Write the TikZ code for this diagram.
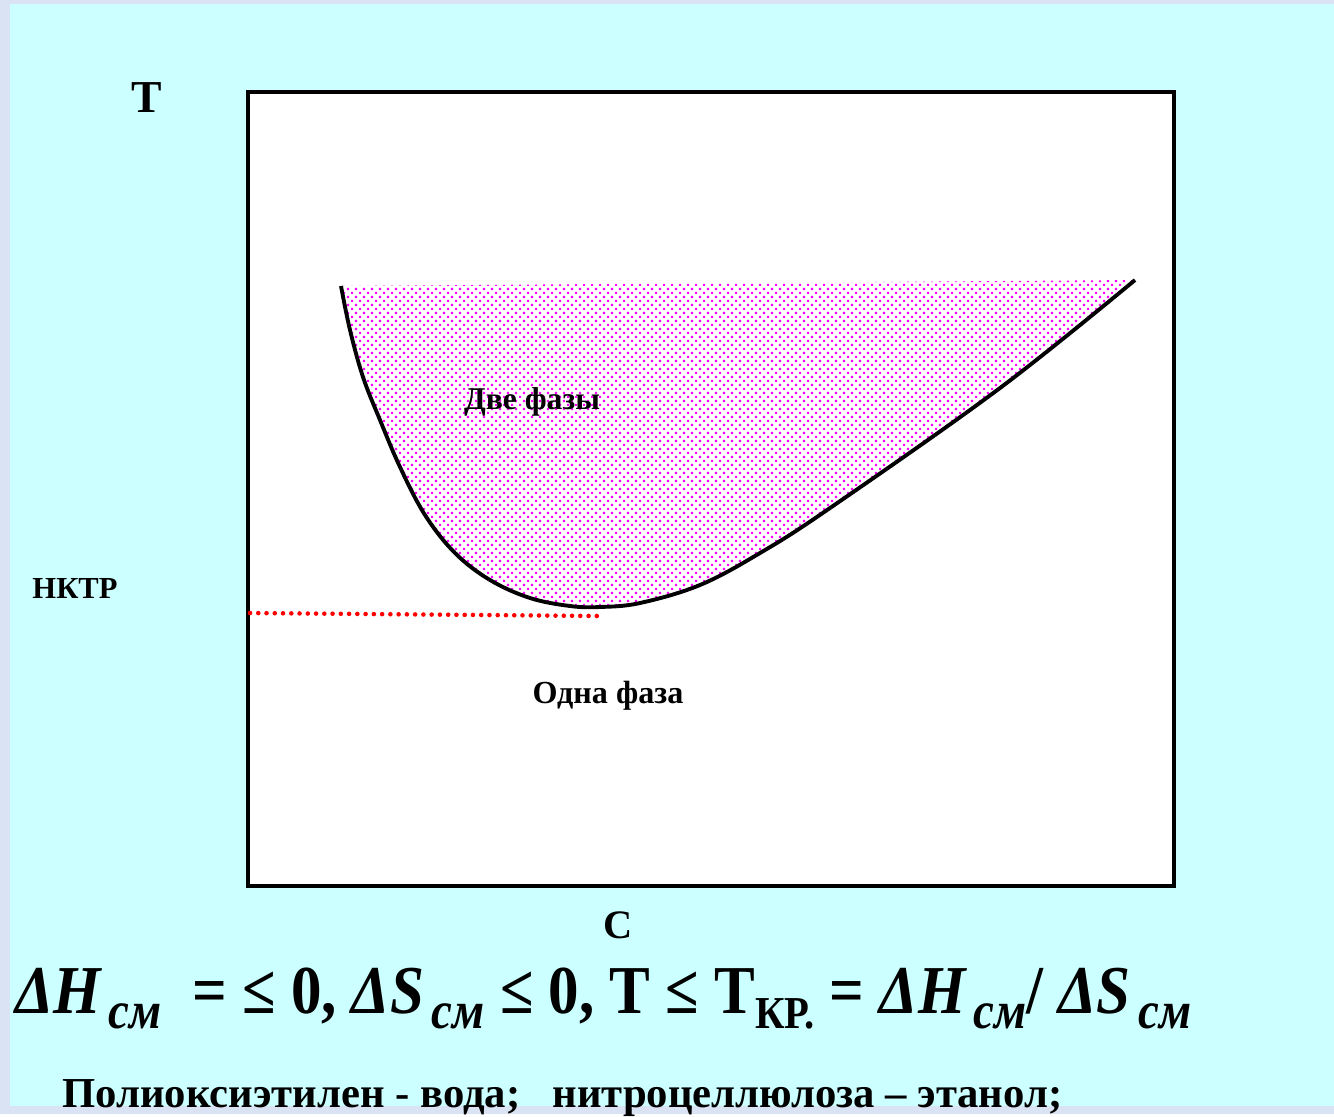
\documentclass[tikz,border=0pt]{standalone}
\usepackage{fontspec}
\setmainfont{Liberation Serif}
\usepackage{graphicx}
\usetikzlibrary{patterns}
\definecolor{slidebg}{HTML}{CCFFFF}
\definecolor{slideframe}{HTML}{DAE3F3}
\pgfdeclarepatternformonly{pinkdots}{\pgfpointorigin}{\pgfqpoint{4.54pt}{4.54pt}}{\pgfqpoint{4.54pt}{4.54pt}}{%
  \pgfpathrectangle{\pgfqpoint{0pt}{0pt}}{\pgfqpoint{1.2pt}{1.2pt}}%
  \pgfpathrectangle{\pgfqpoint{2.27pt}{2.27pt}}{\pgfqpoint{1.2pt}{1.2pt}}%
  \pgfusepath{fill}}
\newcommand{\subcm}{\raisebox{-9pt}{\fontsize{30}{30}\selectfont\bfseries\itshape\,см}}
\newcommand{\subkr}{\raisebox{-9pt}{\fontsize{26}{26}\selectfont\bfseries КР.}}
\tikzstyle{lbl} = [font=\bfseries, inner sep=0pt]
\tikzstyle{boundary} = [line width=2.2pt, black, line join=round]
\tikzstyle{nktrline} = [red, line width=2.6pt, line cap=round, dash pattern=on 0pt off 4.7pt]

\begin{document}
\begin{tikzpicture}[x=0.02cm, y=-0.02cm]
        \fill[slideframe] (0,0) rectangle (1334,1114);
        \fill[slidebg] (10,4) rectangle (1334,1106);
        \draw[line width=2.3pt, fill=white] (248,92) rectangle (1174,886);

        \fill[pattern=pinkdots, pattern color=magenta] plot[smooth, tension=0.6] coordinates {(341,286) (350,330) (363,377) (380,420) (400,467) (425,515) (455,553) (490,580) (530,598) (570,606) (600,607) (640,603) (700,585) (760,553) (830,508) (1000,388) (1135,280)} -- cycle;
        \draw[nktrline] (250,613) -- (598,616);
        \draw[boundary] plot[smooth, tension=0.6] coordinates {(341,286) (350,330) (363,377) (380,420) (400,467) (425,515) (455,553) (490,580) (530,598) (570,606) (600,607) (640,603) (700,585) (760,553) (830,508) (1000,388) (1135,280)};

        \node[lbl, font=\fontsize{26}{28}\selectfont\bfseries] (tlabel) at (147,98) {T};
        \node[lbl, font=\fontsize{17.4}{19}\selectfont\bfseries] (nktr) at (75,588) {НКТР};
        \node[lbl, font=\fontsize{18}{20}\selectfont\bfseries] (twophase) at (532,402) {Две фазы};
        \node[lbl, font=\fontsize{18.3}{20}\selectfont\bfseries] (onephase) at (608,696) {Одна фаза};
        \node[lbl, font=\fontsize{23}{25}\selectfont\bfseries] (clabel) at (618,925) {C};
        \node[lbl, anchor=base west, font=\fontsize{39}{41}\selectfont\bfseries] (cond) at (15,1013)
            {\scalebox{0.89}[1]{{\itshape ΔH}\subcm\ \ = ≤ 0, {\itshape ΔS}\subcm\ ≤ 0, T ≤ T\subkr\ = {\itshape ΔH}\subcm/ {\itshape ΔS}\subcm}};
        \node[lbl, anchor=base west, font=\fontsize{24.3}{26}\selectfont\bfseries] (systems) at (62,1107)
            {Полиоксиэтилен - вода;\ \ \ нитроцеллюлоза – этанол;};
    \end{tikzpicture}
\end{document}
